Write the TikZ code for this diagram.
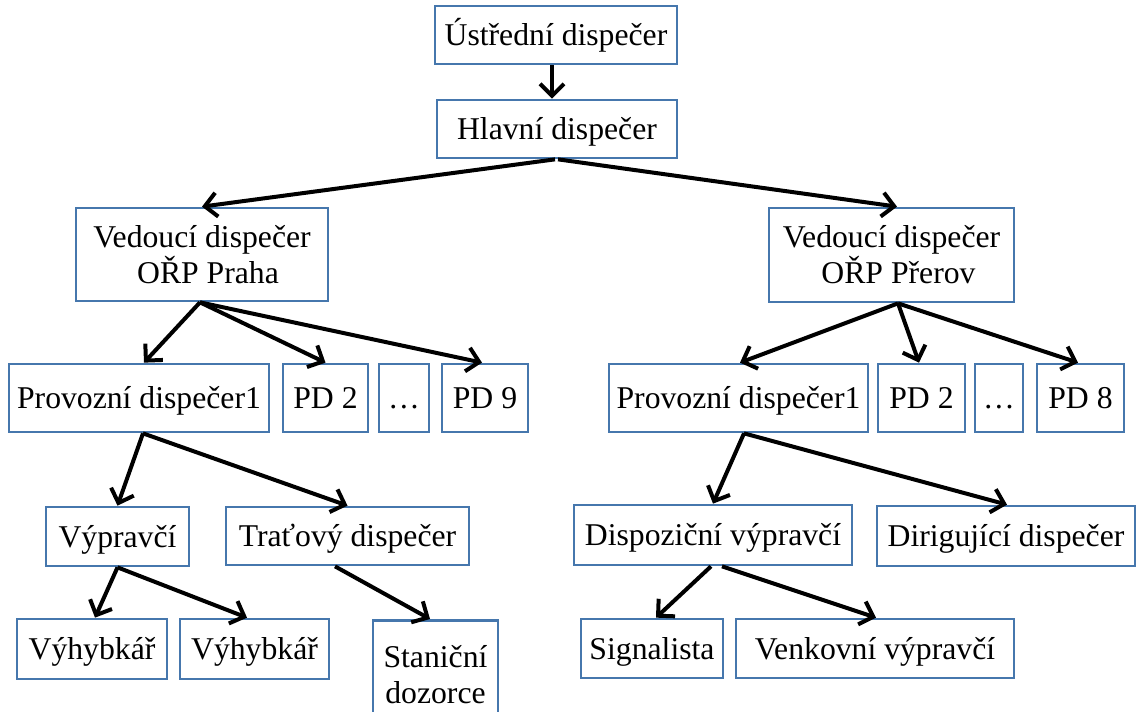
\documentclass[tikz,border=0pt]{standalone}
\usepackage{fontspec}
\setmainfont{Liberation Serif}
\usetikzlibrary{arrows.meta}
\definecolor{boxblue}{HTML}{4677AD}
\begin{document}
\begin{tikzpicture}[x=1pt,y=-1pt,
  box/.style={draw=boxblue, line width=2.7pt, inner sep=0pt, fill=white,
    font=\fontsize{31.7}{36}\selectfont},
  one/.style={text height=21pt, text depth=0pt},
  arr/.style={-{Straight Barb[length=12pt,width=24pt]}, line width=4pt, black}]
\useasboundingbox (0,0) rectangle (1138,712);
\clip (0,0) rectangle (1138,712);
\fill[white] (0,0) rectangle (1138,712);

% top
\node[box,one,minimum width=242pt,minimum height=58pt] (ustr) at (556,35) {Ústřední dispečer};
\node[box,one,minimum width=240pt,minimum height=58pt] (hlav) at (557,129) {Hlavní dispečer};

% level 3
\node[box,align=center,minimum width=252pt,minimum height=93pt] (praha) at (202,254.5)
  {Vedoucí dispečer\hspace{10pt}\\\hspace{12pt}OŘP Praha};
\node[box,align=center,minimum width=245pt,minimum height=94pt] (prerov) at (891.5,255)
  {Vedoucí dispečer\\\hspace{14pt}OŘP Přerov};

% level 4 left
\node[box,one,minimum width=260pt,minimum height=68pt] (lprov) at (139,398) {Provozní dispečer1};
\node[box,one,minimum width=85pt,minimum height=68pt] (lpd2) at (325.5,398) {PD 2};
\node[box,one,minimum width=50pt,minimum height=68pt] (ldots) at (404,398) {…};
\node[box,one,minimum width=86pt,minimum height=68pt] (lpd9) at (485,398) {PD 9};

% level 4 right
\node[box,one,minimum width=259pt,minimum height=68pt] (rprov) at (738.5,398) {Provozní dispečer1};
\node[box,one,minimum width=87pt,minimum height=68pt] (rpd2) at (921.5,398) {PD 2};
\node[box,one,minimum width=48pt,minimum height=68pt] (rdots) at (999,398) {…};
\node[box,one,minimum width=87pt,minimum height=68pt] (rpd8) at (1080.5,398) {PD 8};

% level 5
\node[box,one,minimum width=143pt,minimum height=59pt] (vyp) at (117.5,536.5) {Výpravčí};
\node[box,one,minimum width=243pt,minimum height=58pt] (trat) at (347.5,536) {Traťový dispečer};
\node[box,one,minimum width=278pt,minimum height=60pt] (disp) at (713,535) {Dispoziční výpravčí};
\node[box,one,minimum width=258pt,minimum height=60pt] (dirig) at (1006,536) {Dirigující dispečer};

% level 6
\node[box,one,minimum width=150pt,minimum height=60pt] (vyh1) at (92,649) {Výhybkář};
\node[box,one,minimum width=149pt,minimum height=60pt] (vyh2) at (254.5,649) {Výhybkář};
\node[box,align=center,anchor=north,minimum width=125pt,minimum height=140pt,
  inner ysep=19pt,text height=27pt,text depth=0pt] (stan) at (435.5,619) {Staniční\\dozorce};
\node[box,one,minimum width=142pt,minimum height=59pt] (sign) at (652,648.5) {Signalista};
\node[box,one,minimum width=278pt,minimum height=59pt] (venk) at (875,648.5) {Venkovní výpravčí};

% connectors
\draw[arr] ([xshift=-4pt]ustr.south) -- ([xshift=-5pt]hlav.north);
\draw[arr] ([xshift=-2pt]hlav.south) -- (praha.north);
\draw[arr] ([xshift=1pt]hlav.south) -- ([xshift=5.5pt]prerov.north);

\draw[arr] ([xshift=-2pt]praha.south) -- ([xshift=5pt]lprov.north);
\draw[arr] ([xshift=-2pt]praha.south) -- (lpd2.north);
\draw[arr] ([xshift=-2pt]praha.south) -- ([xshift=-3pt]lpd9.north);

\draw[arr] ([xshift=6.5pt]prerov.south) -- ([xshift=1.5pt]rprov.north);
\draw[arr] ([xshift=6.5pt]prerov.south) -- ([xshift=-2.5pt]rpd2.north);
\draw[arr] ([xshift=6.5pt]prerov.south) -- ([xshift=-2.5pt]rpd8.north);

\draw[arr] ([xshift=4pt]lprov.south) -- (vyp.north);
\draw[arr] ([xshift=4pt]lprov.south) -- (trat.north);
\draw[arr] (vyp.south) -- ([xshift=3pt]vyh1.north);
\draw[arr] (vyp.south) -- ([xshift=-7.5pt]vyh2.north);
\draw[arr] ([xshift=-12.5pt]trat.south) -- ([xshift=-5.5pt]stan.north);

\draw[arr] ([xshift=5.5pt]rprov.south) -- (disp.north);
\draw[arr] ([xshift=5.5pt]rprov.south) -- ([xshift=1pt]dirig.north);
\draw[arr] ([xshift=-2pt]disp.south) -- ([xshift=4pt]sign.north);
\draw[arr] ([xshift=9pt]disp.south) -- ([xshift=1pt]venk.north);
\end{tikzpicture}
\end{document}
